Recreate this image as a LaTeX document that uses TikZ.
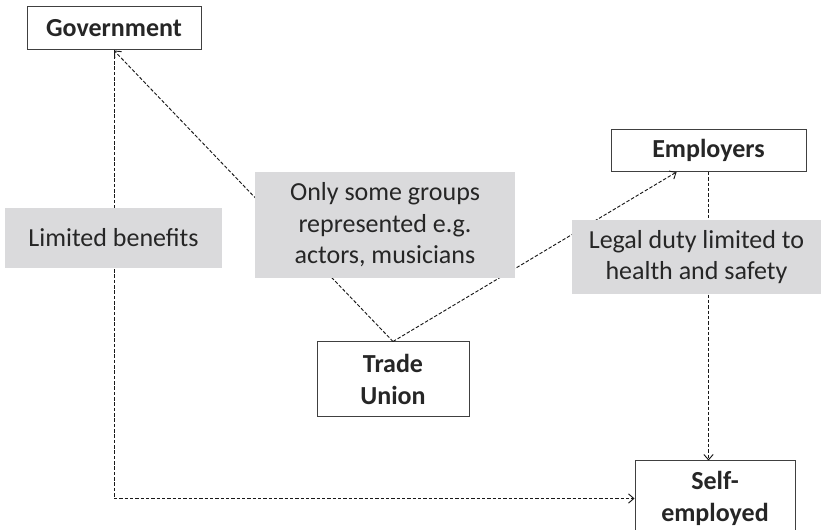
\documentclass[tikz,border=0pt]{standalone}
\usepackage{fontspec}
\setmainfont{Carlito}
\usetikzlibrary{arrows.meta}
\definecolor{boxline}{HTML}{404040}
\definecolor{notefill}{HTML}{DADADC}
\definecolor{inktext}{HTML}{262626}

\begin{document}
\begin{tikzpicture}[x=0.75pt,y=-0.75pt,
  every node/.style={font=\fontsize{19.5}{23.6}\selectfont, text=inktext, inner sep=0pt, align=center},
  party/.style={draw=boxline, line width=0.75pt, fill=white, font=\fontsize{19.5}{23.6}\selectfont\bfseries},
  note/.style={fill=notefill},
  link/.style={draw=black!90, line width=0.7pt, dash pattern=on 2.6pt off 1.4pt, -{Straight Barb[length=4pt,width=7pt]}}]
\useasboundingbox (0,0) rectangle (821,530);
% parties
\node [party, minimum width=130.5pt, minimum height=32.25pt] (gov) at (114,28.5) {Government};
\node [party, minimum width=146.25pt, minimum height=31.5pt] (emp) at (708.5,150.5) {Employers};
\node [party, minimum width=114pt, minimum height=56.25pt] (tu) at (393,379.5) {Trade\\Union};
\node [party, minimum width=120pt, minimum height=56.25pt] (self) at (715,498.5) {Self-\\employed};
% links
\draw [link] (tu.north) -- (gov.south);
\draw [link] (tu.north) -- (emp.214);
\draw [link] (gov.south) |- (self.west);
\draw [link] (emp.south) -- (emp.south |- self.north);
% notes on top of the links
\node [note, minimum width=162.75pt, minimum height=45pt] (benefits) at (113.5,238) {Limited benefits};
\node [note, minimum width=195pt, minimum height=79.5pt] (groups) at (385,225) {Only some groups\\represented e.g.\\actors, musicians};
\node [note, minimum width=186.75pt, minimum height=55.5pt] (duty) at (696.5,257) {Legal duty limited to\\health and safety};
\end{tikzpicture}
\end{document}
